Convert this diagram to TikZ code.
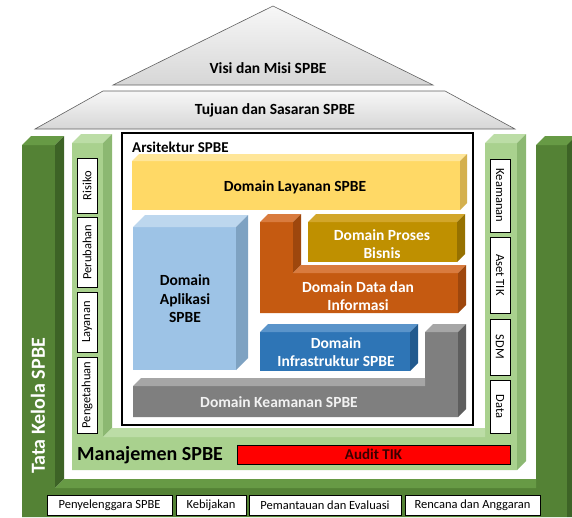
\documentclass[tikz,border=0pt]{standalone}
\usepackage{fontspec}
\setmainfont{Carlito}
\definecolor{dgfront}{HTML}{548235}
\definecolor{dgside}{HTML}{3D6326}
\definecolor{dgtop}{HTML}{679A45}
\definecolor{lgfront}{HTML}{A9D18E}
\definecolor{lgside}{HTML}{8CB872}
\definecolor{lgtop}{HTML}{BCDDA6}
\definecolor{yfront}{HTML}{FFD966}
\definecolor{ytop}{HTML}{FFE699}
\definecolor{yside}{HTML}{D4B04E}
\definecolor{lbfront}{HTML}{9DC3E6}
\definecolor{lbtop}{HTML}{BDD7EE}
\definecolor{lbside}{HTML}{7EA2C2}
\definecolor{gdfront}{HTML}{BF9000}
\definecolor{gdtop}{HTML}{D2A62A}
\definecolor{gdside}{HTML}{967100}
\definecolor{orfront}{HTML}{C55A11}
\definecolor{ortop}{HTML}{D97B3E}
\definecolor{orside}{HTML}{9E470D}
\definecolor{bfront}{HTML}{2E75B6}
\definecolor{btop}{HTML}{5A94CA}
\definecolor{bside}{HTML}{225A8E}
\definecolor{kfront}{HTML}{7F7F7F}
\definecolor{ktop}{HTML}{A6A6A6}
\definecolor{kside}{HTML}{5E5E5E}
\definecolor{audittext}{HTML}{3A0000}
\newcommand{\cuboid}[8]{%
  \fill[#6] (#1,#2) rectangle (#3,#4);
  \fill[#7] (#1,#2) -- (#1+#5,#2-#5) -- (#3+#5,#2-#5) -- (#3,#2) -- cycle;
  \fill[#8] (#3,#2) -- (#3+#5,#2-#5) -- (#3+#5,#4-#5) -- (#3,#4) -- cycle;
}
\tikzset{
  lbl/.style={draw=black, fill=white, line width=0.8pt, inner sep=0pt,
    font=\fontsize{12.5}{12.5}\selectfont},
  bt/.style={font=\bfseries\fontsize{15.5}{18.5}\selectfont, align=center},
  roof/.style={draw=gray!75!black, line width=0.6pt, top color=gray!6, bottom color=gray!32},
}
\begin{document}
\begin{tikzpicture}[x=1pt,y=-1pt]
\useasboundingbox (0,0) rectangle (572,517);
% roof
\path[roof] (113,85) -- (273,6) -- (433,85) -- cycle;
\path[roof] (103,91) -- (445,91) -- (515,129) -- (35,129) -- cycle;
\node[bt] (visi) at (268,68) {Visi dan Misi SPBE};
\node[bt] (tujuan) at (275,110) {Tujuan dan Sasaran SPBE};
% dark green U
\fill[dgfront] (22,145) -- (55,145) -- (55,488) -- (536,488) -- (536,145) -- (567,145) -- (567,517) -- (22,517) -- cycle;
\fill[dgtop] (22,145) -- (31,136) -- (64,136) -- (55,145) -- cycle;
\fill[dgside] (55,145) -- (64,136) -- (64,479) -- (55,488) -- cycle;
\fill[dgtop] (55,488) -- (64,479) -- (536,479) -- (536,488) -- cycle;
\fill[dgtop] (536,145) -- (545,136) -- (572,136) -- (572,145) -- cycle;
\fill[dgside] (567,145) -- (572,140) -- (572,517) -- (567,517) -- cycle;
% light green U
\fill[lgfront] (72,143) -- (103,143) -- (103,437) -- (485,437) -- (485,143) -- (517,143) -- (517,470) -- (72,470) -- cycle;
\fill[lgtop] (72,143) -- (81,134) -- (112,134) -- (103,143) -- cycle;
\fill[lgside] (103,143) -- (112,134) -- (112,428) -- (103,437) -- cycle;
\fill[lgtop] (103,437) -- (112,428) -- (485,428) -- (485,437) -- cycle;
\fill[lgtop] (485,143) -- (494,134) -- (526,134) -- (517,143) -- cycle;
\fill[lgside] (517,143) -- (526,134) -- (526,461) -- (517,470) -- cycle;
% frame
\draw[line width=1.6pt, fill=white] (122,133) rectangle (473,425);
\node[font=\bfseries\fontsize{15}{15}\selectfont, anchor=west, inner sep=0pt] (arsi) at (132,147) {Arsitektur SPBE};
% domains
\cuboid{132}{161}{460}{210}{7}{yfront}{ytop}{yside}
\node[bt] (layanan) at (295,187) {Domain Layanan SPBE};
\cuboid{133}{227}{236}{370}{12}{lbfront}{lbtop}{lbside}
\node[bt] (aplikasi) at (185,299) {Domain\\Aplikasi\\SPBE};
\cuboid{308}{222}{457}{262}{8}{gdfront}{gdtop}{gdside}
\node[bt, text=white] (proses) at (382,244) {Domain Proses\\Bisnis};
% orange L
\fill[orfront] (260,222) -- (293,222) -- (293,273) -- (458,273) -- (458,313) -- (260,313) -- cycle;
\fill[ortop] (260,222) -- (268,214) -- (301,214) -- (293,222) -- cycle;
\fill[orside] (293,222) -- (301,214) -- (301,265) -- (293,273) -- cycle;
\fill[ortop] (293,273) -- (301,265) -- (466,265) -- (458,273) -- cycle;
\fill[orside] (458,273) -- (466,265) -- (466,305) -- (458,313) -- cycle;
\node[bt, text=white] (data) at (358,296) {Domain Data dan\\Informasi};
\cuboid{260}{332}{410}{371}{8}{bfront}{btop}{bside}
\node[bt, text=white] (infra) at (336,352) {Domain\\Infrastruktur SPBE};
% gray L
\fill[kfront] (133,386) -- (425,386) -- (425,332) -- (458,332) -- (458,417) -- (133,417) -- cycle;
\fill[ktop] (133,386) -- (141,378) -- (425,378) -- (425,386) -- cycle;
\fill[ktop] (425,332) -- (433,324) -- (466,324) -- (458,332) -- cycle;
\fill[kside] (458,332) -- (466,324) -- (466,409) -- (458,417) -- cycle;
\node[bt, text=gray!10] (keamanan) at (279,402) {Domain Keamanan SPBE};
% left labels
\node[lbl, rotate=90, minimum width=55, minimum height=20] (risiko) at (87,185.5) {Risiko};
\node[lbl, rotate=90, minimum width=70, minimum height=20] (perubahan) at (87,252) {Perubahan};
\node[lbl, rotate=90, minimum width=60, minimum height=20] (layananL) at (87,322) {Layanan};
\node[lbl, rotate=90, minimum width=76, minimum height=20] (pengetahuan) at (87,395) {Pengetahuan};
% right labels
\node[lbl, rotate=-90, minimum width=73, minimum height=20] (keam) at (500,195.5) {Keamanan};
\node[lbl, rotate=-90, minimum width=76, minimum height=20] (aset) at (500,275) {Aset TIK};
\node[lbl, rotate=-90, minimum width=56, minimum height=20] (sdm) at (500,347) {SDM};
\node[lbl, rotate=-90, minimum width=53, minimum height=20] (datalbl) at (500,406.5) {Data};
% manajemen
\node[font=\bfseries\fontsize{20}{20}\selectfont, anchor=west, inner sep=0pt] (manajemen) at (77,455) {Manajemen SPBE};
\node[draw=black, fill=red, line width=0.8pt, minimum width=273, minimum height=19, inner sep=0pt,
  font=\bfseries\fontsize{15}{15}\selectfont, text=audittext] (audit) at (373.5,454.5) {Audit TIK};
% tata kelola
\node[rotate=90, text=white, font=\bfseries\fontsize{20}{20}\selectfont] (tata) at (38,406) {Tata Kelola SPBE};
% bottom labels
\node[lbl, minimum width=125, minimum height=20] (penyelenggara) at (109.5,505) {Penyelenggara SPBE};
\node[lbl, minimum width=70, minimum height=20] (kebijakan) at (211,505) {Kebijakan};
\node[lbl, minimum width=152, minimum height=20] (pemantauan) at (325,505) {Pemantauan dan Evaluasi};
\node[lbl, minimum width=135, minimum height=20] (rencana) at (472.5,505) {Rencana dan Anggaran};
\end{tikzpicture}
\end{document}
